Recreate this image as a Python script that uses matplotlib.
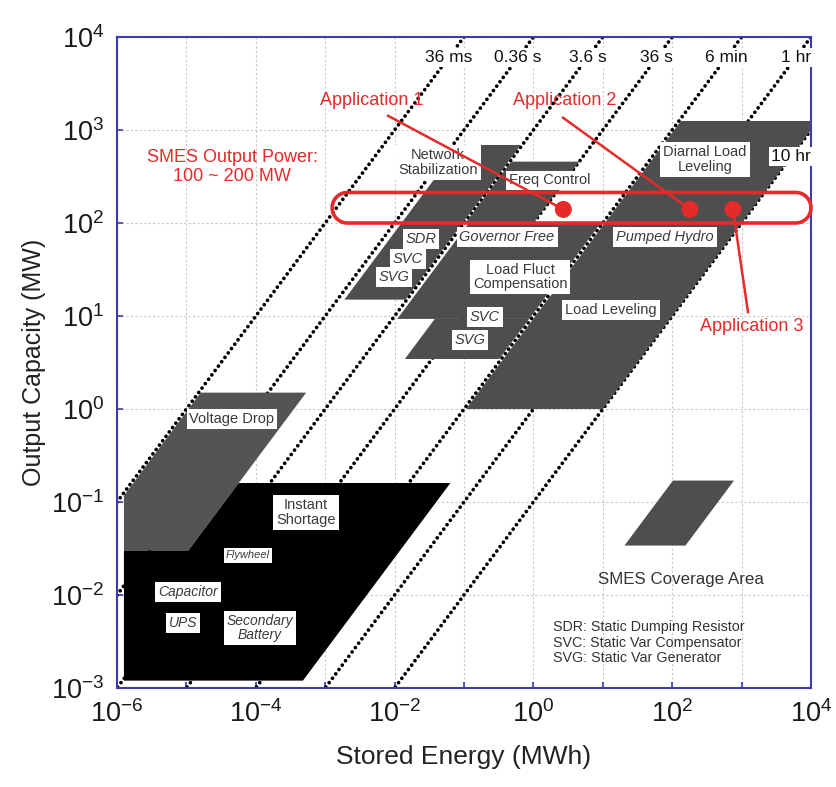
import numpy as np
import matplotlib
matplotlib.use('Agg')
import matplotlib.pyplot as plt
from matplotlib.patches import Polygon
from matplotlib.ticker import FixedLocator, LogFormatterSciNotation, NullFormatter

plt.rcParams['font.family'] = ['Liberation Sans', 'DejaVu Sans']
plt.rcParams['mathtext.fontset'] = 'custom'
plt.rcParams['mathtext.rm'] = 'Liberation Sans'
plt.rcParams['mathtext.it'] = 'Liberation Sans:italic'

# ---------------- data ----------------
# constant storage-duration lines (hours)
time_labels = ['36 ms', '0.36 s', '3.6 s', '36 s', '6 min', '1 hr', '10 hr']
time_hours = [1e-5, 1e-4, 1e-3, 1e-2, 1e-1, 1.0, 10.0]
time_label_power = [6000, 6000, 6000, 6000, 6000, 6000, 520]

# parallelogram regions: power range (MW) and duration range (h)
region_names = ['Network Stabilization / SDR', 'Freq Control', 'Governor Free / Load Fluct',
                'SVC / SVG', 'Load Leveling / Pumped Hydro']
region_p_low = [15, 100, 9.3, 3.45, 1.0]
region_p_high = [690, 457, 100, 9.3, 1250]
region_t_left = [10**-3.9, 10**-2.98, 10**-2.93, 10**-2.39, 10**-0.97]
region_t_right = [10**-3.02, 10**-2.0, 10**-1.03, 10**-1.03, 10.0]

# short-duration storage (voltage drop, instant shortage)
e_min = 10**-5.9
vd_p = [0.03, 1.5]
vd_t = [10**-4.97, 10**-3.45]
bk_p = [1.2e-3, 0.03, 0.16]
bk_t_right = 10**-0.4

# legend sample area
legend_p = [0.034, 0.17]
legend_t = [10**2.78, 10**3.66]

# region labels: text, logE, logP, italic
lab_text = ['Network\nStabilization', 'Freq Control', 'SDR', 'Governor Free', 'SVC', 'SVG',
            'Load Fluct\nCompensation', 'SVC', 'SVG', 'Load Leveling', 'Pumped Hydro',
            'Diarnal Load\nLeveling', 'Voltage Drop', 'Instant\nShortage', 'Flywheel',
            'Capacitor', 'UPS', 'Secondary\nBattery']
lab_loge = [-1.375, 0.239, -1.62, -0.38, -1.807, -2.009, -0.193, -0.697, -0.914, 1.118,
            1.896, 2.473, -4.343, -3.277, -4.112, -4.977, -5.049, -3.939]
lab_logp = [2.65, 2.457, 1.824, 1.846, 1.61, 1.417, 1.417, 0.988, 0.742, 1.063,
            1.846, 2.682, -0.105, -1.113, -1.573, -1.97, -2.302, -2.356]
lab_italic = [False, False, True, True, True, True, False, True, True, False, True,
              False, False, False, True, True, True, True]
lab_size = [10.5, 10.5, 10.5, 10.5, 10.5, 10.5, 10.5, 10.5, 10.5, 10.5, 10.5,
            10.5, 10.5, 10.5, 8, 10, 10, 10]

# SMES output band and applications
smes_p = [100, 213]
smes_e = [1.26e-3, 1e4]
app_names = ['Application 1', 'Application 2', 'Application 3']
app_e = [2.7, 180, 750]
app_p = [140, 140, 140]
app_text_loge = [-2.33, 0.455, 3.15]
app_text_logp = [3.314, 3.314, 0.89]
app_start_loge = [-2.095, 0.427, 3.092]
app_start_logp = [3.153, 3.132, 1.042]

notes = 'SDR: Static Dumping Resistor\nSVC: Static Var Compensator\nSVG: Static Var Generator'

# ---------------- figure ----------------
W, H = 836, 787
fig = plt.figure(figsize=(W / 100, H / 100), dpi=100)
L, R, T, B = 117, 811, 37, 688
ax = fig.add_axes([L / W, 1 - B / H, (R - L) / W, (B - T) / H])
ax.set_xscale('log')
ax.set_yscale('log')
ax.set_xlim(1e-6, 1e4)
ax.set_ylim(1e-3, 1e4)

spine_col = '#3c3cb0'
for s in ax.spines.values():
    s.set_color(spine_col)
    s.set_linewidth(1.5)

ax.xaxis.set_major_locator(FixedLocator([10.0**k for k in range(-6, 5, 2)]))
ax.xaxis.set_minor_locator(FixedLocator([10.0**k for k in range(-5, 4, 2)]))
ax.xaxis.set_major_formatter(LogFormatterSciNotation())
ax.xaxis.set_minor_formatter(NullFormatter())
ax.yaxis.set_major_locator(FixedLocator([10.0**k for k in range(-3, 5)]))
ax.yaxis.set_minor_locator(FixedLocator([]))
ax.yaxis.set_major_formatter(LogFormatterSciNotation())
ax.tick_params(which='both', direction='in', length=4, width=1.2, color=spine_col,
               top=False, right=False)
ax.tick_params(which='major', labelsize=19.5, pad=9, labelcolor='#1a1a1a')
ax.grid(True, which='both', linestyle=(0, (2, 2)), color='#c8c8c8', linewidth=0.8)
ax.set_axisbelow(True)
ax.set_xlabel('Stored Energy (MWh)', fontsize=19, labelpad=12, color='#222222')
ax.set_ylabel('Output Capacity (MW)', fontsize=18, labelpad=4, color='#222222')

# dotted duration lines
p_span = np.array([1e-5, 1e6])
for t in time_hours:
    ax.plot(p_span * t, p_span, color='black', lw=2.7, linestyle=(0, (0.01, 1.45)),
            dash_capstyle='round', zorder=1.5)


def para(p_lo, p_hi, t_lo, t_hi):
    return [(p_lo * t_lo, p_lo), (p_lo * t_hi, p_lo), (p_hi * t_hi, p_hi), (p_hi * t_lo, p_hi)]


gray = '#4e4e4e'
for i in range(len(region_names)):
    ax.add_patch(Polygon(para(region_p_low[i], region_p_high[i], region_t_left[i],
                              region_t_right[i]), closed=True, fc=gray, ec='none', zorder=2))

vd_poly = [(e_min, vd_p[0]), (vd_p[0] * vd_t[1], vd_p[0]), (vd_p[1] * vd_t[1], vd_p[1]),
           (vd_p[1] * vd_t[0], vd_p[1]), (e_min, e_min / vd_t[0])]
ax.add_patch(Polygon(vd_poly, closed=True, fc='#545454', ec='none', zorder=2))
bk_poly = [(e_min, bk_p[0]), (bk_p[0] * bk_t_right, bk_p[0]), (bk_p[2] * bk_t_right, bk_p[2]),
           (bk_p[2] * vd_t[1], bk_p[2]), (bk_p[1] * vd_t[1], bk_p[1]), (e_min, bk_p[1])]
ax.add_patch(Polygon(bk_poly, closed=True, fc='black', ec='none', zorder=2))

# legend sample
ax.add_patch(Polygon(para(legend_p[0], legend_p[1], legend_t[0], legend_t[1]), closed=True,
                     fc=gray, ec='none', zorder=2))
ax.text(10**2.127, 10**-1.831, 'SMES Coverage Area', fontsize=12.2, ha='center', va='center',
        color='#333333', zorder=3)
ax.text(10**0.282, 10**-2.27, notes, fontsize=10.3, ha='left', va='top', color='#333333',
        linespacing=1.15, zorder=3)

# duration labels
for lbl, t, p in zip(time_labels, time_hours, time_label_power):
    ax.text(p * t, p, lbl, fontsize=12.5, ha='center', va='center', color='#111111', zorder=3,
            bbox=dict(boxstyle='square,pad=0.12', fc='white', ec='none'))

# region labels
for txt, le, lp, it, fs in zip(lab_text, lab_loge, lab_logp, lab_italic, lab_size):
    ax.text(10**le, 10**lp, txt, fontsize=fs, ha='center', va='center', color='#3a3a3a',
            style='italic' if it else 'normal', linespacing=1.05, zorder=3,
            bbox=dict(boxstyle='square,pad=0.2', fc='white', ec='none'))

# SMES output band (pill outline)
red = '#e52a2a'
(x0, y0) = ax.transData.transform((smes_e[0], smes_p[0]))
(x1, y1) = ax.transData.transform((smes_e[1], smes_p[1]))
r = (y1 - y0) / 2
yc = (y0 + y1) / 2
ang_r = np.linspace(-np.pi / 2, np.pi / 2, 40)
ang_l = np.linspace(np.pi / 2, 3 * np.pi / 2, 40)
pts = np.vstack([np.column_stack([x1 - r + r * np.cos(ang_r), yc + r * np.sin(ang_r)]),
                 np.column_stack([x0 + r + r * np.cos(ang_l), yc + r * np.sin(ang_l)])])
pts_data = ax.transData.inverted().transform(pts)
ax.add_patch(Polygon(pts_data, closed=True, fill=False, ec=red, lw=2.6, zorder=4, clip_on=False))

ax.text(10**-4.343, 10**2.607, 'SMES Output Power:\n100 ~ 200 MW', fontsize=13, color=red,
        ha='center', va='center', linespacing=1.15, zorder=4)

for name, e, p, tle, tlp, sle, slp in zip(app_names, app_e, app_p, app_text_loge,
                                         app_text_logp, app_start_loge, app_start_logp):
    ax.plot([10**sle, e], [10**slp, p], color=red, lw=1.8, zorder=4)
    ax.text(10**tle, 10**tlp, name, fontsize=13, color=red, ha='center', va='center', zorder=4)
ax.scatter(app_e, app_p, s=150, color=red, edgecolors='none', zorder=5)

fig.savefig('out.png', dpi=100)
